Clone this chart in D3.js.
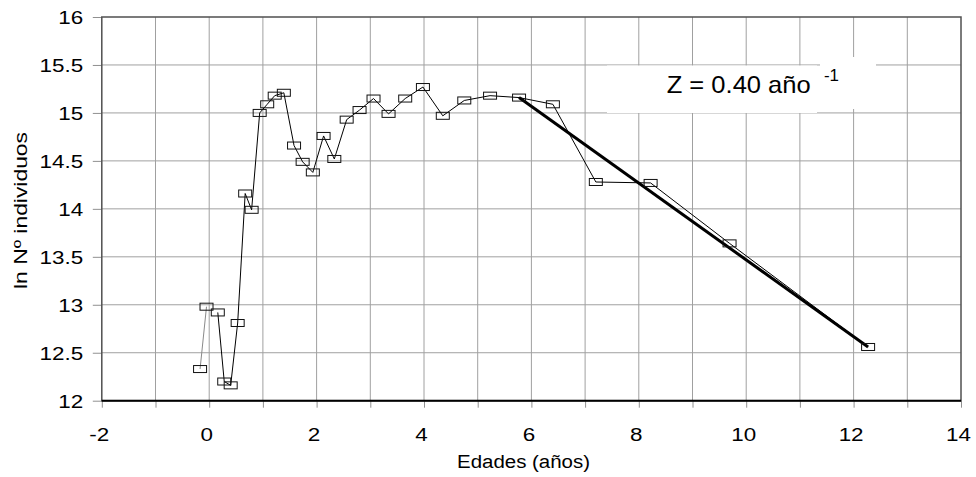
<!DOCTYPE html>
<html><head><meta charset="utf-8">
<script src="https://cdn.jsdelivr.net/npm/d3@7"></script>
<style>
body{margin:0;background:#fff}
svg{display:block}
text{font-family:"Liberation Sans",Arial,sans-serif;fill:#000}
</style></head>
<body><svg id="c" width="976" height="477"></svg>
<script>
// Data
const ages = [-0.17,-0.05,0.16,0.28,0.40,0.53,0.67,0.79,0.94,1.08,1.22,1.39,1.58,1.74,1.93,2.13,2.33,2.56,2.80,3.06,3.34,3.65,3.98,4.35,4.75,5.23,5.77,6.40,7.20,8.22,9.69,12.27];
const lnN = [12.33,12.98,12.92,12.20,12.16,12.81,14.16,13.99,15.00,15.09,15.18,15.21,14.66,14.49,14.38,14.76,14.52,14.93,15.03,15.15,14.99,15.15,15.27,14.97,15.13,15.18,15.16,15.09,14.28,14.27,13.64,12.56];
const fitX = [5.77, 12.27];
const fitY = [15.16, 12.56];
const xTicks = [-2,-1,0,1,2,3,4,5,6,7,8,9,10,11,12,13,14];
const yTicks = [12,12.5,13,13.5,14,14.5,15,15.5,16];
const xTitle = "Edades (años)";
const yTitle = "ln Nº individuos";
const noteMain = "Z = 0.40 año";
const noteSup = "-1";

const svg = d3.select("#c");
const L = 101.8, R = 961, T = 17, B = 400.7;
const x = d3.scaleLinear().domain([-2,14]).range([L,R]);
const y = d3.scaleLinear().domain([12,16]).range([B,T]);

// gridlines
const g = svg.append("g");
g.selectAll(".vg").data(xTicks.filter(d=>d>-2&&d<14)).join("line")
  .attr("x1",d=>x(d)).attr("x2",d=>x(d)).attr("y1",T).attr("y2",B)
  .attr("stroke","#a0a0a0").attr("stroke-width",1);
g.selectAll(".hg").data(yTicks.filter(d=>d>12&&d<16)).join("line")
  .attr("x1",L).attr("x2",R).attr("y1",d=>y(d)).attr("y2",d=>y(d))
  .attr("stroke","#a0a0a0").attr("stroke-width",1);

// annotation boxes (white, covering the grid)
svg.append("rect").attr("x",607).attr("y",65.5).attr("width",210).attr("height",47.5).attr("fill","#fff");
svg.append("rect").attr("x",820).attr("y",57).attr("width",56).attr("height",52).attr("fill","#fff");

// axes
const ya = svg.append("g").attr("transform",`translate(${L},0)`)
  .call(d3.axisLeft(y).tickValues(yTicks).tickSize(9).tickSizeOuter(0).tickFormat(d=>String(d)));
ya.select(".domain").remove();
ya.selectAll(".tick line").attr("stroke","#909090");
ya.selectAll(".tick text").attr("x",0).attr("dy","0.35em").attr("font-size",19)
  .attr("text-anchor","end").attr("transform","translate(-18.7,0) scale(1.18,1)");

const xa = svg.append("g").attr("transform",`translate(0,${B})`)
  .call(d3.axisBottom(x).tickValues(xTicks).tickSize(7).tickSizeOuter(0)
    .tickFormat(d=> d%2===0 ? String(d) : ""));
xa.select(".domain").remove();
xa.selectAll(".tick line").attr("stroke","#909090");
xa.selectAll(".tick text").attr("y",0).attr("dy",0).attr("font-size",19)
  .attr("text-anchor","middle").attr("transform","translate(-3,40.7) scale(1.18,1)");

// frame
svg.append("rect").attr("x",L).attr("y",T).attr("width",R-L).attr("height",B-T)
  .attr("fill","none").attr("stroke","#505050").attr("stroke-width",1.5);
svg.append("line").attr("x1",L).attr("x2",R).attr("y1",B).attr("y2",B)
  .attr("stroke","#000").attr("stroke-width",2);

// data lines
const pts = ages.map((a,i)=>[a,lnN[i]]);
const line = d3.line().x(d=>x(d[0])).y(d=>y(d[1]));
svg.append("path").attr("d",line(pts.slice(0,2))).attr("fill","none")
  .attr("stroke","#8a8a8a").attr("stroke-width",1);
svg.append("path").attr("d",line(pts.slice(2))).attr("fill","none")
  .attr("stroke","#000").attr("stroke-width",1);
// regression line
svg.append("path").attr("d",line(fitX.map((v,i)=>[v,fitY[i]]))).attr("fill","none")
  .attr("stroke","#000").attr("stroke-width",3);

// markers
svg.append("g").selectAll("rect").data(pts).join("rect")
  .attr("x",d=>x(d[0])-6.5).attr("y",d=>y(d[1])-3.5)
  .attr("width",13).attr("height",7)
  .attr("fill","none").attr("stroke","#111").attr("stroke-width",1);

// annotation text
svg.append("text").attr("x",666.7).attr("y",92.7).attr("font-size",24)
  .attr("textLength",144).attr("lengthAdjust","spacingAndGlyphs").text(noteMain);
svg.append("text").attr("x",824).attr("y",80.7).attr("font-size",16)
  .attr("textLength",15).attr("lengthAdjust","spacingAndGlyphs").text(noteSup);

// axis titles
svg.append("text").attr("x",523.5).attr("y",467.5).attr("font-size",18)
  .attr("text-anchor","middle").attr("textLength",133).attr("lengthAdjust","spacingAndGlyphs").text(xTitle);
svg.append("text").attr("transform","translate(26.7,210.5) rotate(-90)").attr("font-size",18)
  .attr("text-anchor","middle").attr("textLength",157).attr("lengthAdjust","spacingAndGlyphs").text(yTitle);
</script></body></html>
